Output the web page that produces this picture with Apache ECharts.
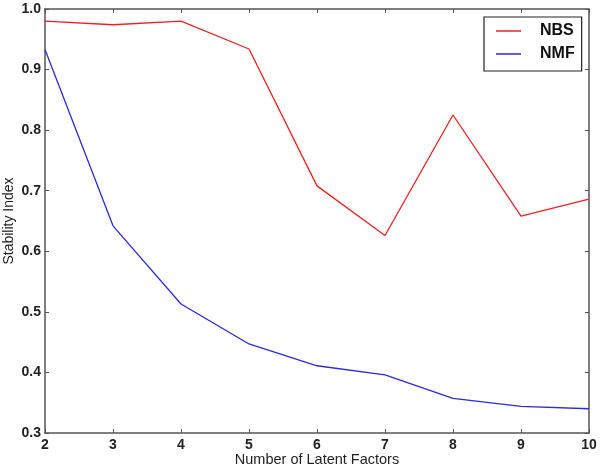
<!DOCTYPE html>
<html>
<head>
<meta charset="utf-8">
<script src="https://cdn.jsdelivr.net/npm/echarts@6/dist/echarts.min.js"></script>
<style>html,body{margin:0;padding:0;background:#fff}#c{width:600px;height:470px}</style>
</head>
<body>
<div id="c"></div>
<script>
const factors = [2, 3, 4, 5, 6, 7, 8, 9, 10];
const nbs = [0.980, 0.974, 0.980, 0.934, 0.708, 0.626, 0.825, 0.658, 0.686];
const nmf = [0.933, 0.642, 0.513, 0.447, 0.411, 0.396, 0.357, 0.344, 0.340];
const xTitle = 'Number of Latent Factors';
const yTitle = 'Stability Index';

const chart = echarts.init(document.getElementById('c'));
const axisLine = { show: true, lineStyle: { color: '#555', width: 1.5 } };
const tickStyle = { show: true, inside: true, length: 4, lineStyle: { color: '#555', width: 1 } };
const font = 'Liberation Sans, Arial, sans-serif';
chart.setOption({
  animation: false,
  backgroundColor: '#fff',
  grid: { left: 45, right: 11, top: 9, bottom: 37, containLabel: false, outerBoundsMode: 'none' },
  legend: {
    left: 484, top: 17,
    orient: 'vertical',
    icon: 'rect',
    itemWidth: 25, itemHeight: 1.5,
    itemGap: 5,
    padding: [5, 7, 8, 12],
    borderColor: '#222', borderWidth: 1.2,
    backgroundColor: '#fff',
    textStyle: { fontFamily: font, fontSize: 16, fontWeight: 'bold', color: '#111', lineHeight: 18, padding: [0, 0, 0, 14] },
    data: ['NBS', 'NMF']
  },
  xAxis: [{
    type: 'value', min: 2, max: 10, interval: 1,
    name: xTitle, nameLocation: 'middle', nameGap: 19, nameMoveOverlap: false,
    nameTextStyle: { fontFamily: font, fontSize: 14.5, color: '#222' },
    axisLine: axisLine, axisTick: tickStyle, splitLine: { show: false },
    axisLabel: { fontFamily: font, fontSize: 14, fontWeight: 'bold', color: '#222', margin: 5 }
  }, {
    type: 'value', min: 2, max: 10, interval: 1, position: 'top',
    axisLine: axisLine, axisTick: tickStyle, splitLine: { show: false }, axisLabel: { show: false }
  }],
  yAxis: [{
    type: 'value', min: 0.3, max: 1.0, interval: 0.1,
    name: yTitle, nameLocation: 'middle', nameGap: 29, nameMoveOverlap: false,
    nameTextStyle: { fontFamily: font, fontSize: 14, color: '#222' },
    axisLine: axisLine, axisTick: tickStyle, splitLine: { show: false },
    axisLabel: { fontFamily: font, fontSize: 14, fontWeight: 'bold', color: '#222', margin: 4,
      formatter: v => v.toFixed(1) }
  }, {
    type: 'value', min: 0.3, max: 1.0, interval: 0.1, position: 'right',
    axisLine: axisLine, axisTick: tickStyle, splitLine: { show: false }, axisLabel: { show: false }
  }],
  series: [{
    name: 'NBS', type: 'line', symbol: 'none', color: '#f02020',
    lineStyle: { width: 1.3 },
    data: factors.map((f, i) => [f, nbs[i]])
  }, {
    name: 'NMF', type: 'line', symbol: 'none', color: '#2a2ae0',
    lineStyle: { width: 1.3 },
    data: factors.map((f, i) => [f, nmf[i]])
  }]
});
</script>
</body>
</html>
